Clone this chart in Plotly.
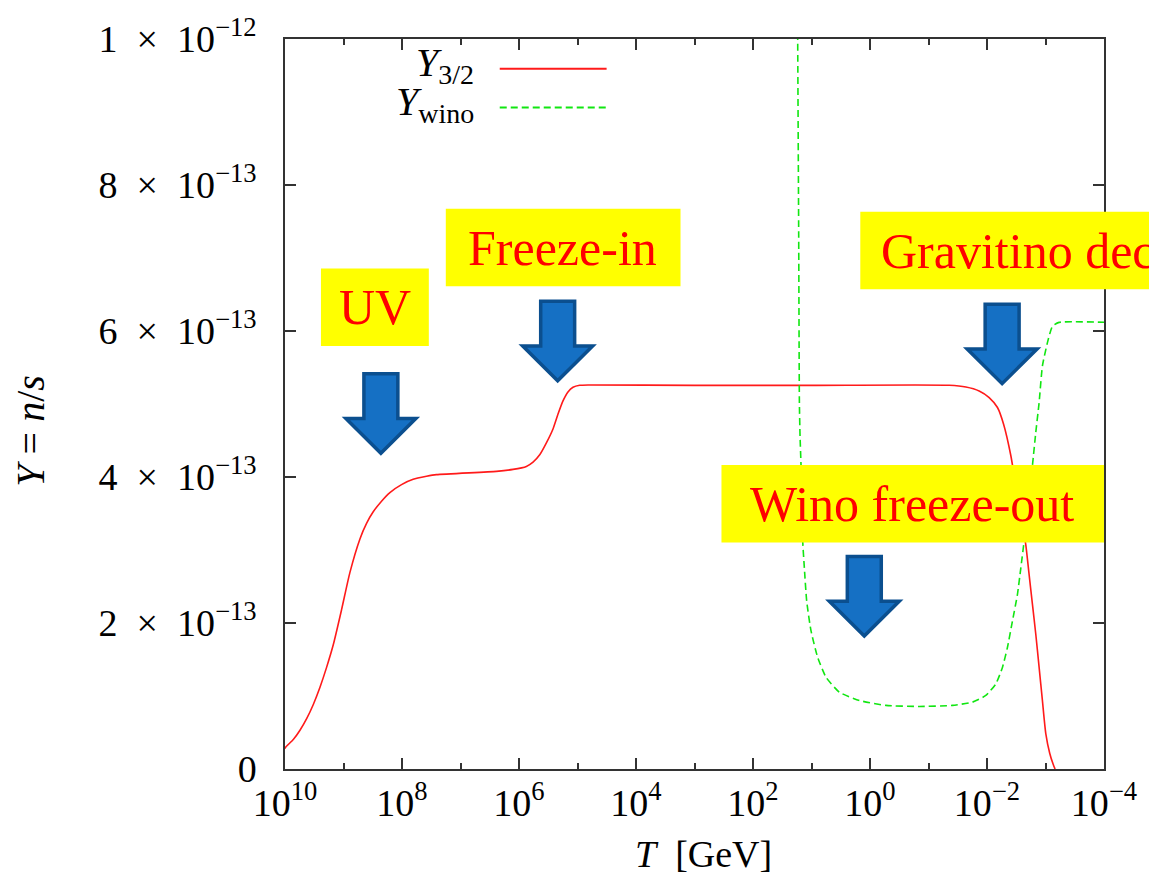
import plotly.graph_objects as go

# ---- data: gravitino and wino yields vs temperature ----
log10_T_gravitino = [10.0, 9.983, 9.858, 9.744, 9.630, 9.516, 9.402, 9.289, 9.175, 9.032,
                     8.890, 8.719, 8.606, 8.492, 8.350, 8.207, 8.008, 7.809, 7.581, 7.411,
                     6.386, 6.102, 5.874, 5.760, 5.646, 5.532, 5.419, 5.333, 5.248, 5.163,
                     5.077, 4.963, 4.793, 3.0, 1.0, -1.354, -1.639, -1.866, -2.037, -2.179,
                     -2.285, -2.407, -2.492, -2.578, -2.663, -2.720, -2.777, -2.834, -2.891,
                     -2.947, -3.005, -3.073, -3.147, -3.164]
Y_gravitino = [0.28e-13, 0.304e-13, 0.404e-13, 0.531e-13, 0.689e-13, 0.884e-13, 1.120e-13,
               1.392e-13, 1.701e-13, 2.186e-13, 2.694e-13, 3.152e-13, 3.365e-13, 3.524e-13,
               3.669e-13, 3.787e-13, 3.896e-13, 3.968e-13, 4.009e-13, 4.032e-13, 4.077e-13,
               4.104e-13, 4.145e-13, 4.204e-13, 4.304e-13, 4.467e-13, 4.658e-13, 4.862e-13,
               5.043e-13, 5.166e-13, 5.229e-13, 5.256e-13, 5.261e-13, 5.255e-13, 5.255e-13,
               5.256e-13, 5.233e-13, 5.179e-13, 5.088e-13, 4.952e-13, 4.720e-13, 4.295e-13,
               3.887e-13, 3.479e-13, 3.071e-13, 2.662e-13, 2.254e-13, 1.846e-13, 1.392e-13,
               0.939e-13, 0.485e-13, 0.213e-13, 0.031e-13, 0.0]

log10_T_wino = [1.26, 1.236, 1.219, 1.207, 1.196, 1.179, 1.150, 1.122, 1.082, 1.008, 0.894,
                0.751, 0.524, 0.182, -0.273, -0.842, -1.410, -1.752, -1.980, -2.151, -2.264,
                -2.349, -2.435, -2.520, -2.578, -2.634, -2.691, -2.777, -2.834, -2.891,
                -2.947, -3.032, -3.118, -3.232, -4.0]
Y_wino = [14.0e-13, 10.0e-13, 7.33e-13, 5.020e-13, 4.567e-13, 4.159e-13, 3.116e-13,
          2.753e-13, 2.299e-13, 1.891e-13, 1.528e-13, 1.256e-13, 1.052e-13, 0.939e-13,
          0.871e-13, 0.857e-13, 0.871e-13, 0.916e-13, 1.007e-13, 1.166e-13, 1.392e-13,
          1.664e-13, 2.027e-13, 2.390e-13, 2.753e-13, 3.116e-13, 3.524e-13, 4.159e-13,
          4.612e-13, 5.020e-13, 5.520e-13, 5.837e-13, 6.064e-13, 6.118e-13, 6.12e-13]

x_major_ticks = [1e10, 1e8, 1e6, 1e4, 1e2, 1e0, 1e-2, 1e-4]
x_major_labels = ["10<sup>10</sup>", "10<sup>8</sup>", "10<sup>6</sup>", "10<sup>4</sup>",
                  "10<sup>2</sup>", "10<sup>0</sup>", "10<sup>−2</sup>", "10<sup>−4</sup>"]
x_minor_ticks = [1e9, 1e7, 1e5, 1e3, 1e1, 1e-1, 1e-3]
y_ticks = [0, 2e-13, 4e-13, 6e-13, 8e-13, 1e-12]
y_labels = ["0", "2\u2002×\u200210<sup>−13</sup>", "4\u2002×\u200210<sup>−13</sup>",
            "6\u2002×\u200210<sup>−13</sup>", "8\u2002×\u200210<sup>−13</sup>",
            "1\u2002×\u200210<sup>−12</sup>"]

# ---- page geometry (pixels) ----
W, H = 1149, 889
L, R, T, B = 285, 1105, 34, 769


def px(xp, yp):
    """Pixel position on the page -> paper coordinates of the plot area."""
    return (xp - L) / (R - L), (B - yp) / (B - T)


SERIF = "Liberation Serif"
AXIS_COLOR = "#333333"
RED = "#ff1a1a"
GREEN = "#11e611"
DASH = "7px,4px"

fig = go.Figure()
fig.add_trace(go.Scatter(
    x=[10 ** v for v in log10_T_gravitino], y=Y_gravitino, mode="lines",
    line=dict(color=RED, width=1.6, shape="spline", smoothing=0.6),
    showlegend=False, name="Y3/2"))
fig.add_trace(go.Scatter(
    x=[10 ** v for v in log10_T_wino], y=Y_wino, mode="lines",
    line=dict(color=GREEN, width=1.6, dash=DASH, shape="spline", smoothing=0.5),
    showlegend=False, name="Ywino"))

shapes = []
annotations = []

# legend (text on the left, sample line on the right)
for label, yy, color, dash in [("<i>Y</i><sub>3/2</sub>", 60, RED, "solid"),
                               ("<i>Y</i><sub>wino</sub>", 99, GREEN, DASH)]:
    xa, ya = px(476, yy)
    annotations.append(dict(xref="paper", yref="paper", x=xa, y=ya, xanchor="right",
                            yanchor="middle", text=label, showarrow=False,
                            font=dict(family=SERIF, size=40, color="black")))
    x0, y0 = px(500, yy + 4)
    x1, _ = px(607, yy + 4)
    shapes.append(dict(type="line", xref="paper", yref="paper", x0=x0, x1=x1, y0=y0, y1=y0,
                       line=dict(color=color, width=2, dash=dash)))

# yellow labels
boxes = [
    ("UV", 321, 429, 265, 343, "center", 375),
    ("Freeze-in", 446, 681, 205, 283, "center", 563),
    ("Gravitino decay", 861, 1170, 208, 286, "left", 880),
    ("Wino freeze-out", 722, 1105, 463, 541, "center", 913),
]
for text, bx0, bx1, by0, by1, anchor, tx in boxes:
    x0, y0 = px(bx0, by1)
    x1, y1 = px(bx1, by0)
    shapes.append(dict(type="rect", xref="paper", yref="paper", x0=x0, x1=x1, y0=y0, y1=y1,
                       fillcolor="#ffff00", line=dict(width=0), layer="above"))
    ax, ay = px(tx, (by0 + by1) / 2)
    annotations.append(dict(xref="paper", yref="paper", x=ax, y=ay, xanchor=anchor,
                            yanchor="middle", text=text, showarrow=False,
                            font=dict(family=SERIF, size=50, color="#ff0000")))

# block arrows pointing down
arrows = [(381, 371), (558, 298), (1003, 301), (865, 555)]
for cx, top in arrows:
    pts = [(cx - 17, top), (cx + 17, top), (cx + 17, top + 45), (cx + 35, top + 45),
           (cx, top + 80), (cx - 35, top + 45), (cx - 17, top + 45)]
    path = "M " + " L ".join("{:.5f},{:.5f}".format(*px(a, b)) for a, b in pts) + " Z"
    shapes.append(dict(type="path", xref="paper", yref="paper", path=path,
                       fillcolor="#1570c4", line=dict(color="#0b4f8f", width=3.5),
                       layer="above"))

# axis titles
ax, ay = px(704, 855)
annotations.append(dict(xref="paper", yref="paper", x=ax, y=ay, xanchor="center",
                        yanchor="middle", text="<i>T</i>\u2002[GeV]", showarrow=False,
                        font=dict(family=SERIF, size=38, color="black")))
ax, ay = px(30, 428)
annotations.append(dict(xref="paper", yref="paper", x=ax, y=ay, xanchor="center",
                        yanchor="middle",
                        text="<i>Y</i> = <i>n</i>/<i>s</i>",
                        showarrow=False, textangle=-90,
                        font=dict(family=SERIF, size=40, color="black")))

fig.update_layout(
    width=W, height=H,
    margin=dict(l=L, r=W - R, t=T, b=H - B, pad=0),
    paper_bgcolor="white", plot_bgcolor="white",
    shapes=shapes, annotations=annotations, showlegend=False,
    xaxis=dict(type="log", range=[10, -4], tickmode="array", tickvals=x_major_ticks,
               ticktext=x_major_labels, ticks="inside", ticklen=11, tickwidth=1.5,
               tickcolor=AXIS_COLOR, showline=True, linecolor=AXIS_COLOR, linewidth=1.5,
               mirror="ticks", showgrid=False, zeroline=False, ticklabelstandoff=0,
               tickfont=dict(family=SERIF, size=38, color="black"),
               minor=dict(tickmode="array", tickvals=x_minor_ticks, ticks="inside",
                          ticklen=6, tickwidth=1.5, tickcolor=AXIS_COLOR, showgrid=False)),
    yaxis=dict(range=[0, 1e-12], tickmode="array", tickvals=y_ticks, ticktext=y_labels,
               ticks="inside", ticklen=11, tickwidth=1.5, tickcolor=AXIS_COLOR,
               showline=True, linecolor=AXIS_COLOR, linewidth=1.5, mirror="ticks",
               showgrid=False, zeroline=False, ticklabelstandoff=19,
               tickfont=dict(family=SERIF, size=38, color="black")),
)

fig.write_html("out.html")
